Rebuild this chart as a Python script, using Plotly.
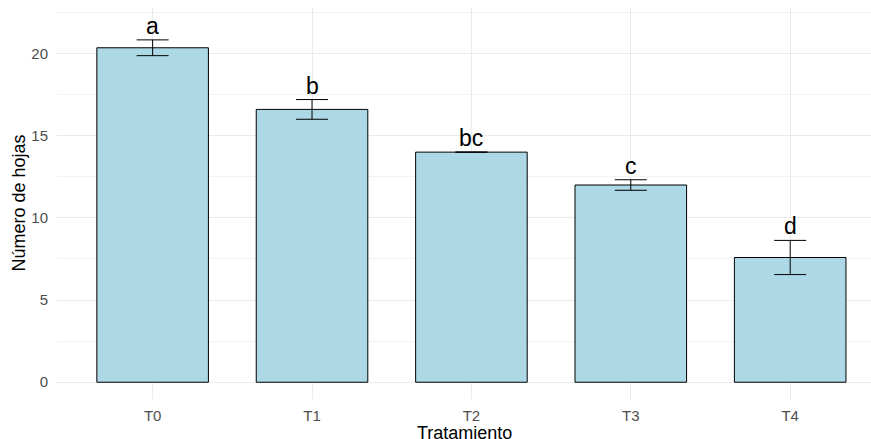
import plotly.graph_objects as go

# Leaf count per treatment: mean, standard error and group letters
tratamientos = ["T0", "T1", "T2", "T3", "T4"]
medias = [20.35, 16.6, 14.0, 12.0, 7.59]
errores = [0.48, 0.6, 0.0, 0.32, 1.04]
letras = ["a", "b", "bc", "c", "d"]

FONT = "Liberation Sans, Arial, sans-serif"
GRID = "#EBEBEB"

fig = go.Figure()

fig.add_trace(go.Bar(
    x=tratamientos,
    y=medias,
    width=0.7,
    marker=dict(color="#ADD8E6", line=dict(color="black", width=1)),
    error_y=dict(type="data", array=errores, visible=True,
                 color="black", thickness=1, width=16),
    hoverinfo="x+y",
))

# Significance letters just above each error bar
for t, m, e, l in zip(tratamientos, medias, errores, letras):
    fig.add_annotation(
        x=t, y=m + e, text=l, showarrow=False,
        xanchor="center", yanchor="bottom", yshift=-1,
        font=dict(family=FONT, size=23, color="black"),
    )

# Axis titles placed as paper-anchored annotations
fig.add_annotation(
    x=0.5, y=0, xref="paper", yref="paper", text="Tratamiento",
    showarrow=False, xanchor="center", yanchor="middle", yshift=-34,
    font=dict(family=FONT, size=18, color="black"),
)
fig.add_annotation(
    x=0, y=0.5, xref="paper", yref="paper", text="Número de hojas",
    showarrow=False, xanchor="center", yanchor="middle", xshift=-39,
    textangle=-90, font=dict(family=FONT, size=18, color="black"),
)

fig.update_layout(
    width=871, height=439,
    margin=dict(l=57, r=0, t=8, b=40),
    plot_bgcolor="white", paper_bgcolor="white",
    showlegend=False,
    font=dict(family=FONT),
    bargap=0.3,
)

fig.update_xaxes(
    range=[-0.6, 4.507],
    showline=False, zeroline=False, ticks="",
    showgrid=True, gridcolor=GRID, gridwidth=1,
    tickfont=dict(family=FONT, size=15, color="#4D4D4D"),
    ticklabelstandoff=6,
    automargin=False,
)

fig.update_yaxes(
    range=[-1.02, 22.77],
    tickvals=[0, 5, 10, 15, 20],
    showline=False, zeroline=False, ticks="",
    showgrid=True, gridcolor=GRID, gridwidth=1,
    minor=dict(tickvals=[2.5, 7.5, 12.5, 17.5, 22.5], showgrid=True,
               gridcolor="#F2F2F2", gridwidth=1),
    tickfont=dict(family=FONT, size=15, color="#4D4D4D"),
    ticklabelstandoff=8,
    automargin=False,
)

fig.write_html("out.html")
